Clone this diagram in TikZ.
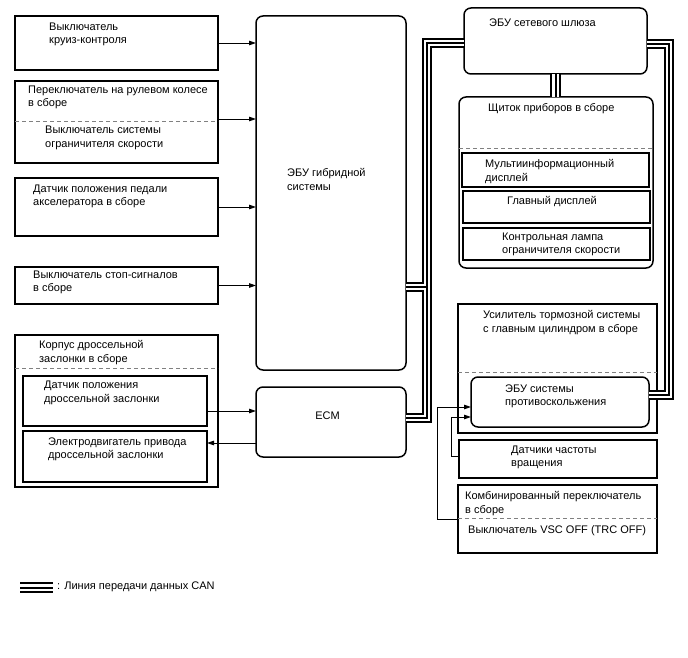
\documentclass[tikz,border=0pt]{standalone}
\usepackage{fontspec}
\setmainfont{Liberation Sans}
\usetikzlibrary{arrows.meta}
\newcommand\fs{\fontsize{11}{13.5}\selectfont}
\newcommand\mltxt[1]{\begin{tabular}[t]{@{}l@{}}#1\end{tabular}}
\newcommand\bnode[6]{\node[#1, anchor=north west, minimum width={(#5-#3)*1pt}, minimum height={(#6-#4)*1pt}] (#2) at (#3,#4) {};}
\tikzset{
 bx/.style={draw, line width=1.5pt, inner sep=0pt, outer sep=0pt},
 rbx/.style={bx, rounded corners=7pt},
 txt/.style={anchor=base west, inner sep=0pt, font=\fs},
 arr/.style={line width=0.9pt, -{Triangle[length=7pt,width=4.5pt]}},
 dsh/.style={gray, line width=0.8pt, dash pattern=on 4pt off 3pt},
 busA/.style={line width=10.5pt, line join=miter},
 busB/.style={white, line width=6.3pt, line join=miter},
 busC/.style={line width=2pt, line join=miter},
}
\begin{document}
\begin{tikzpicture}[x=1pt,y=-1pt]
\useasboundingbox (0,0) rectangle (688,658);
% left boxes
\bnode{bx}{b1}{15}{16}{218}{70}
\bnode{bx}{b2}{15}{81}{218}{163}
\bnode{bx}{b3}{15}{178}{218}{236}
\bnode{bx}{b4}{15}{267}{218}{304}
\bnode{bx}{thr}{15}{335}{218}{487}
\bnode{bx}{tps}{23}{376}{207}{426}
\bnode{bx}{mot}{23}{431}{207}{482}
% centre
\bnode{rbx}{hyb}{256}{16}{406}{370}
\bnode{rbx}{ecm}{256}{387}{406}{457}
% right
\bnode{rbx}{gw}{464}{8}{647}{74}
\bnode{rbx}{cl}{459}{97}{653}{268}
\bnode{bx}{mid}{462}{153}{649}{187}
\bnode{bx}{mdsp}{463}{191}{650}{223}
\bnode{bx}{lamp}{463}{228}{650}{260}
\bnode{bx}{bb}{458}{304}{657}{433}
\bnode{rbx}{skid}{471}{377}{649}{427}
\bnode{bx}{spd}{459}{440}{657}{478}
\bnode{bx}{comb}{458}{485}{657}{553}
% dashed separators
\draw[dsh] (b2.west |- 0,121) -- (b2.east |- 0,121);
\draw[dsh] (thr.west |- 0,368) -- (thr.east |- 0,368);
\draw[dsh] (cl.west |- 0,148) -- (cl.east |- 0,148);
\draw[dsh] (bb.west |- 0,372) -- (bb.east |- 0,372);
\draw[dsh] (comb.west |- 0,518) -- (comb.east |- 0,518);
% arrows
\draw[arr] (b1.east) -- (b1.east -| hyb.west);
\draw[arr] ([yshift=3pt]b2.east) -- ([yshift=3pt]b2.east -| hyb.west);
\draw[arr] (b3.east) -- (b3.east -| hyb.west);
\draw[arr] (b4.east) -- (b4.east -| hyb.west);
\draw[arr] ([yshift=-10pt]tps.east) -- ([yshift=-10pt]tps.east -| ecm.west);
\draw[arr] ([yshift=-21pt]ecm.west) -- ([yshift=-21pt]ecm.west -| mot.east);
\coordinate (k1) at (437,0);
\coordinate (k2) at (451,0);
\draw[arr] (comb.west) -- (comb.west -| k1) |- ([yshift=-5pt]skid.west);
\draw[arr] ([yshift=3pt]spd.west) -- ([yshift=3pt]spd.west -| k2) |- ([yshift=-15pt]skid.west);
% CAN bus
\coordinate (bl) at (427,43);
\coordinate (br) at (427,418);
\coordinate (bh) at (427,287);
\coordinate (tr) at (669,44);
\coordinate (rr) at (669,395);
\coordinate (lg1) at (20,587.5);
\coordinate (lg2) at (53,587.5);
\def\pL{(gw.west |- bl) -- (bl) -- (br) -- (ecm.east |- br)}
\def\pH{(hyb.east |- bh) -- (bh)}
\def\pR{(gw.east |- tr) -- (tr) -- (rr) -- (skid.east |- rr)}
\def\pV{(gw.south) -- (gw.south |- cl.north)}
\def\pG{(lg1) -- (lg2)}
\foreach \st in {busA,busB,busC}{
  \draw[\st] \pL; \draw[\st] \pH; \draw[\st] \pR; \draw[\st] \pV; \draw[\st] \pG;
}
% texts
\node[txt] (t1) at (49,30.5) {\mltxt{Выключатель\\круиз-контроля}};
\node[txt] (t2) at (28,93.5) {\mltxt{Переключатель на рулевом колесе\\в сборе}};
\node[txt] (t2b) at (45,134) {\mltxt{Выключатель системы\\ограничителя скорости}};
\node[txt] (t3) at (33,192) {\mltxt{Датчик положения педали\\акселератора в сборе}};
\node[txt] (t4) at (33,278) {\mltxt{Выключатель стоп-сигналов\\в сборе}};
\node[txt] (t5) at (39,348.5) {\mltxt{Корпус дроссельной\\заслонки в сборе}};
\node[txt] (t5a) at (44,388.5) {\mltxt{Датчик положения\\дроссельной заслонки}};
\node[txt] (t5b) at (48,445) {\mltxt{Электродвигатель привода\\дроссельной заслонки}};
\node[txt] (t6) at (287,176.5) {\mltxt{ЭБУ гибридной\\системы}};
\node[txt, anchor=base] (t7) at (327.5,419) {ECM};
\node[txt] (t8) at (489,27) {ЭБУ сетевого шлюза};
\node[txt] (t9) at (488,112) {Щиток приборов в сборе};
\node[txt] (t10) at (485,167.5) {\mltxt{Мультиинформационный\\дисплей}};
\node[txt] (t11) at (507,204) {Главный дисплей};
\node[txt] (t12) at (502,240) {\mltxt{Контрольная лампа\\ограничителя скорости}};
\node[txt] (t13) at (483,318.5) {\mltxt{Усилитель тормозной системы\\с главным цилиндром в сборе}};
\node[txt] (t14) at (505,392) {\mltxt{ЭБУ системы\\противоскольжения}};
\node[txt] (t15) at (511,453) {\mltxt{Датчики частоты\\вращения}};
\node[txt] (t16) at (465,499.5) {\mltxt{Комбинированный переключатель\\в сборе}};
\node[txt] (t17) at (468,533.5) {Выключатель VSC OFF (TRC OFF)};
\node[txt] (t18) at (57,589.5) {: Линия передачи данных CAN};
\end{tikzpicture}
\end{document}
